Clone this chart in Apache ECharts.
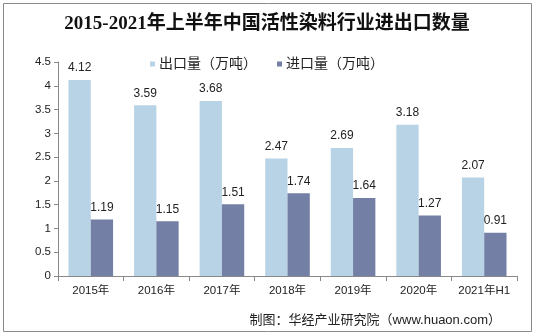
<!DOCTYPE html>
<html><head><meta charset="utf-8">
<script src="https://cdn.jsdelivr.net/npm/echarts@6/dist/echarts.min.js"></script>
<style>html,body{margin:0;padding:0;background:#fff}#c{width:534px;height:335px}</style>
</head><body><div id="c"></div>
<script>
const categories = ['2015年','2016年','2017年','2018年','2019年','2020年','2021年H1'];
const exportVals = [4.12, 3.59, 3.68, 2.47, 2.69, 3.18, 2.07];
const importVals = [1.19, 1.15, 1.51, 1.74, 1.64, 1.27, 0.91];
const seriesNames = ['出口量（万吨）', '进口量（万吨）'];
const yTicks = [0, 0.5, 1, 1.5, 2, 2.5, 3, 3.5, 4, 4.5];

const chart = echarts.init(document.getElementById('c'), null, {renderer: 'canvas'});
const font = 'Liberation Sans, Arial, Noto Sans CJK SC, sans-serif';
chart.setOption({
  animation: false,
  backgroundColor: '#fff',
  title: {
    text: '2015-2021年上半年中国活性染料行业进出口数量',
    left: 'center', top: 10,
    textStyle: {fontFamily: 'Liberation Serif, Noto Sans CJK SC, serif', fontWeight: 'bold', fontSize: 19, color: '#111'}
  },
  legend: {
    top: 52, left: 'center',
    itemWidth: 5, itemHeight: 5, itemGap: 20,
    icon: 'rect',
    textStyle: {fontFamily: font, fontSize: 14, color: '#222', padding: [0,0,0,-1]},
    data: seriesNames
  },
  grid: {left: 58, right: 17, top: 62, bottom: 59},
  xAxis: {
    type: 'category', data: categories,
    axisLine: {lineStyle: {color: '#888'}},
    axisTick: {show: true, length: 5, lineStyle: {color: '#888'}},
    axisLabel: {fontFamily: font, fontSize: 11.5, color: '#222', margin: 9, interval: 0}
  },
  yAxis: {
    type: 'value', min: yTicks[0], max: yTicks[yTicks.length-1], interval: 0.5,
    splitLine: {show: false},
    axisLine: {show: true, lineStyle: {color: '#888'}},
    axisTick: {show: true, length: 4, lineStyle: {color: '#888'}},
    axisLabel: {fontFamily: font, fontSize: 11.5, color: '#222', margin: 7}
  },
  series: [
    {name: seriesNames[0], type: 'bar', data: exportVals, barGap: '0%', barCategoryGap: '32%',
     itemStyle: {color: '#b7d3e5'},
     label: {show: true, position: 'top', distance: 6, fontFamily: font, fontSize: 12, color: '#222'}},
    {name: seriesNames[1], type: 'bar', data: importVals,
     itemStyle: {color: '#737fa5'},
     label: {show: true, position: 'top', distance: 6, fontFamily: font, fontSize: 12, color: '#222'}}
  ],
  graphic: [
    {type: 'rect', shape: {x: 3.5, y: 3.5, width: 528, height: 328}, style: {fill: 'none', stroke: '#8a8a8a', lineWidth: 1}, z: 100},
    {type: 'text', right: 33, top: 314, style: {text: '制图：华经产业研究院（www.huaon.com）', font: '13px Liberation Sans, Noto Sans CJK SC, sans-serif', fill: '#222'}}
  ]
});
</script></body></html>
